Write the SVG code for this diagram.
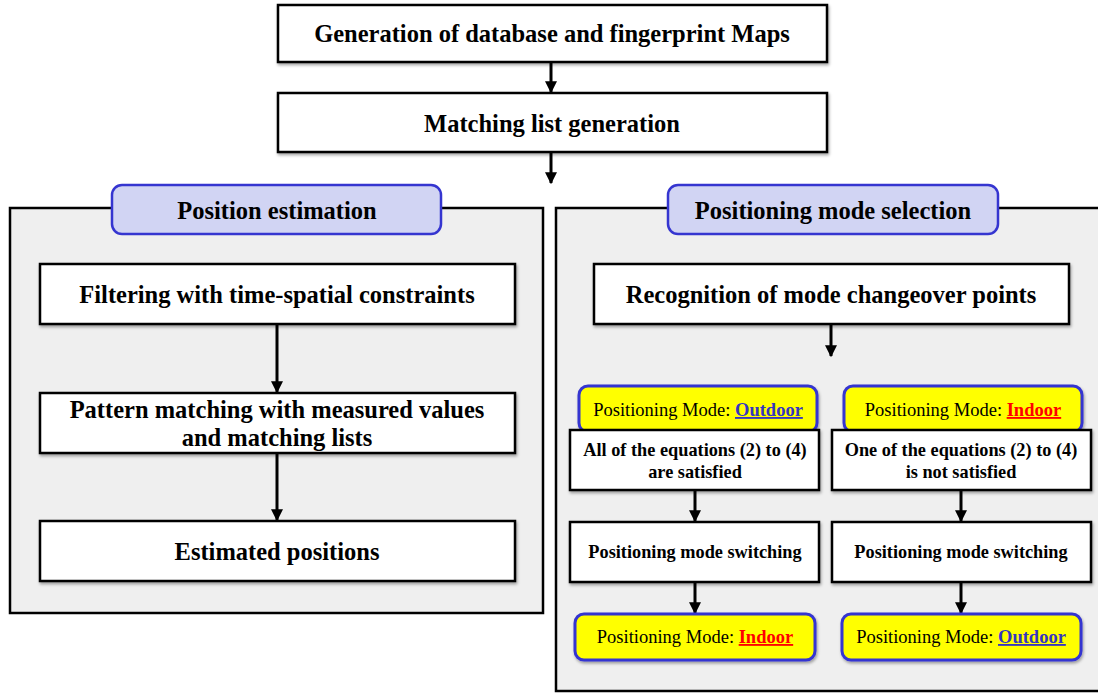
<svg xmlns="http://www.w3.org/2000/svg" width="1098" height="693" viewBox="0 0 1098 693">
<defs>
<filter id="sh" x="-5%" y="-10%" width="110%" height="130%">
<feDropShadow dx="1" dy="2" stdDeviation="1.5" flood-color="#000" flood-opacity="0.35"/>
</filter>
<marker id="ah" viewBox="0 0 10 10" refX="9" refY="5" markerWidth="4" markerHeight="4" orient="auto" markerUnits="strokeWidth">
<path d="M0,0 L10,5 L0,10 z" fill="#000"/>
</marker>
<style>
.box{fill:#fff;stroke:#000;stroke-width:2.5;filter:url(#sh)}
.panel{fill:#efefef;stroke:#000;stroke-width:2.5}
.tab{fill:#d1d4f3;stroke:#3535d0;stroke-width:2.5}
.yel{fill:#ffff00;stroke:#3535d0;stroke-width:3;filter:url(#sh)}
.t{font-family:"Liberation Serif",serif;font-weight:bold;font-size:24.5px;fill:#000;text-anchor:middle}
.s{font-family:"Liberation Serif",serif;font-weight:bold;font-size:18.3px;fill:#000;text-anchor:middle}
.y{font-family:"Liberation Serif",serif;font-size:18.5px;fill:#000;text-anchor:middle}
.out{font-weight:bold;fill:#3535c0;text-decoration:underline}
.in{font-weight:bold;fill:#ff0000;text-decoration:underline}
.c{stroke:#000;stroke-width:3;fill:none;marker-end:url(#ah)}
</style>
</defs>
<rect width="1098" height="693" fill="#fff"/>

<g id="panel-left">
<rect class="panel" x="10" y="208" width="533" height="405"/>
</g>
<g id="panel-right">
<rect class="panel" x="556" y="208" width="560" height="483"/>
</g>

<g id="connectors">
<line class="c" x1="551" y1="62" x2="551" y2="92"/>
<line class="c" x1="551" y1="152" x2="551" y2="183"/>
<line class="c" x1="277" y1="324" x2="277" y2="392"/>
<line class="c" x1="277" y1="453" x2="277" y2="520"/>
<line class="c" x1="831" y1="324" x2="831" y2="356"/>
<line class="c" x1="695" y1="490" x2="695" y2="521"/>
<line class="c" x1="695" y1="582" x2="695" y2="613"/>
<line class="c" x1="961" y1="490" x2="961" y2="521"/>
<line class="c" x1="961" y1="582" x2="961" y2="613"/>
</g>

<g id="n-generation">
<rect class="box" x="278" y="5" width="549" height="57"/>
<text class="t" x="552" y="42">Generation of database and fingerprint Maps</text>
</g>
<g id="n-matching">
<rect class="box" x="278" y="93" width="549" height="59"/>
<text class="t" x="552" y="132">Matching list generation</text>
</g>

<g id="n-position-estimation">
<rect class="tab" x="112" y="185" width="329" height="49" rx="10"/>
<text class="t" x="277" y="219">Position estimation</text>
</g>
<g id="n-mode-selection">
<rect class="tab" x="668" y="185" width="330" height="49" rx="10"/>
<text class="t" x="833" y="219">Positioning mode selection</text>
</g>

<g id="n-filtering">
<rect class="box" x="40" y="264" width="475" height="60"/>
<text class="t" x="277" y="303">Filtering with time-spatial constraints</text>
</g>
<g id="n-pattern">
<rect class="box" x="40" y="393" width="475" height="60"/>
<text class="t" x="277" y="418">Pattern matching with measured values</text>
<text class="t" x="277" y="446">and matching lists</text>
</g>
<g id="n-estimated">
<rect class="box" x="40" y="521" width="475" height="60"/>
<text class="t" x="277" y="560">Estimated positions</text>
</g>

<g id="n-recognition">
<rect class="box" x="594" y="264" width="475" height="60"/>
<text class="t" x="831" y="303">Recognition of mode changeover points</text>
</g>

<g id="n-mode-outdoor-top">
<rect class="yel" x="579" y="386" width="238" height="46" rx="9"/>
<text class="y" x="698" y="416">Positioning Mode: <tspan class="out">Outdoor</tspan></text>
</g>
<g id="n-all-satisfied">
<rect class="box" x="570" y="430" width="249" height="60"/>
<text class="s" x="695" y="456">All of the equations (2) to (4)</text>
<text class="s" x="695" y="478">are satisfied</text>
</g>
<g id="n-switch-left">
<rect class="box" x="570" y="522" width="249" height="60"/>
<text class="s" x="695" y="558">Positioning mode switching</text>
</g>
<g id="n-mode-indoor-bottom">
<rect class="yel" x="575" y="614" width="240" height="46" rx="9"/>
<text class="y" x="695" y="643">Positioning Mode: <tspan class="in">Indoor</tspan></text>
</g>

<g id="n-mode-indoor-top">
<rect class="yel" x="844" y="386" width="238" height="46" rx="9"/>
<text class="y" x="963" y="416">Positioning Mode: <tspan class="in">Indoor</tspan></text>
</g>
<g id="n-one-not-satisfied">
<rect class="box" x="832" y="430" width="259" height="60"/>
<text class="s" x="961" y="456">One of the equations (2) to (4)</text>
<text class="s" x="961" y="478">is not satisfied</text>
</g>
<g id="n-switch-right">
<rect class="box" x="832" y="522" width="259" height="60"/>
<text class="s" x="961" y="558">Positioning mode switching</text>
</g>
<g id="n-mode-outdoor-bottom">
<rect class="yel" x="842" y="614" width="239" height="46" rx="9"/>
<text class="y" x="961" y="643">Positioning Mode: <tspan class="out">Outdoor</tspan></text>
</g>
</svg>
